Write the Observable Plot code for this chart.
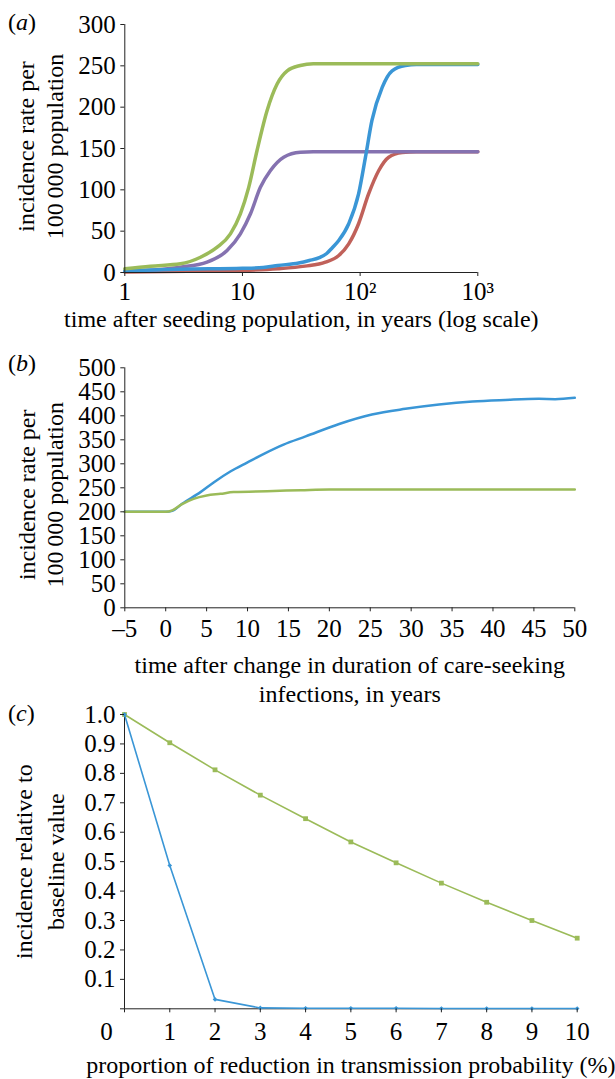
<!DOCTYPE html>
<html><head><meta charset="utf-8">
<script src="https://cdn.jsdelivr.net/npm/d3@7"></script>
<script src="https://cdn.jsdelivr.net/npm/@observablehq/plot@0.6"></script>
<style>
body{margin:0;background:#fff;overflow:hidden}
#wrap{position:relative;width:615px;height:1079px;font-family:"Liberation Serif","Times New Roman",serif;background:#fff}
.panel{position:absolute;left:0}
.plabel{position:absolute;left:8px;font-size:24px;line-height:28px;color:#000;font-family:"Liberation Serif","Times New Roman",serif}
</style></head><body><div id="wrap"></div>
<script>
// ---------- Panel (a) ----------
const aXTicks = [1, 10, 100, 1000];
const aXTickLabels = ["1", "10", "10²", "10³"];
const aYTicks = [0, 50, 100, 150, 200, 250, 300];
const aGreenT = [1, 1.65, 2.97, 4.4, 6.1, 7.9, 9.6, 11.3, 13.3, 16.2, 19.7, 24, 31, 40, 100, 1000];
const aGreenV = [4.5, 7.7, 10.5, 18.5, 30.6, 46.8, 71, 103, 147.6, 196, 228, 244, 250.4, 252.5, 252.5, 252.5];
const aPurpleT = [1, 2, 2.97, 5, 7.4, 9.6, 11.7, 14.2, 17.3, 22.4, 31, 40, 1000];
const aPurpleV = [1.6, 3.5, 6.4, 12.5, 26.6, 46.8, 71, 103, 123.4, 139.5, 145.5, 146, 146];
const aBlueT = [1, 3, 10, 15, 20, 30, 37, 45, 52, 58, 65.8, 80, 97, 111, 126, 154, 187, 243, 300, 1000];
const aBlueV = [2, 4, 5, 6, 8.5, 11.5, 14.5, 18, 23, 30, 38.7, 59, 95, 139.5, 184, 224, 244, 250.5, 251.5, 251.5];
const aRedT = [1, 3.4, 10, 20, 34, 50.7, 65.8, 80, 97, 118, 144, 175, 228, 300, 1000];
const aRedV = [0.5, 1.5, 2.5, 4.5, 7.7, 12.5, 20.6, 34.7, 59, 95, 123.4, 139.5, 145, 146, 146];
const aXTitle = "time after seeding population, in years (log scale)";
const aYTitle = "incidence rate per\n100\u2009000 population";

// ---------- Panel (b) ----------
const bXTicks = [-5, 0, 5, 10, 15, 20, 25, 30, 35, 40, 45, 50];
const bYTicks = [0, 50, 100, 150, 200, 250, 300, 350, 400, 450, 500];
const bBlueT = [-5, 0, 0.8, 2, 4.25, 5.9, 7.9, 10, 12, 14.4, 17.1, 21.2, 25.2, 29.3, 33.4, 37.5, 41.5, 45.6, 47.6, 50];
const bBlueV = [200, 200, 202, 216.7, 241, 261.7, 284, 303, 320.8, 340, 357, 383, 402.7, 414.5, 423.5, 429.8, 433, 435.3, 434.7, 437.5];
const bGreenT = [-5, 0, 0.8, 2, 3.4, 5, 6.7, 8.3, 12.4, 16.5, 20, 50];
const bGreenV = [200, 200, 203, 216, 227, 234, 237.5, 241, 243, 245, 246.5, 246.5];
const bXTitle = "time after change in duration of care-seeking\ninfections, in years";
const bYTitle = "incidence rate per\n100\u2009000 population";

// ---------- Panel (c) ----------
const cX = [0, 1, 2, 3, 4, 5, 6, 7, 8, 9, 10];
const cYTicks = [0, 0.1, 0.2, 0.3, 0.4, 0.5, 0.6, 0.7, 0.8, 0.9, 1.0];
const cGreen = [1.0, 0.904, 0.812, 0.726, 0.646, 0.567, 0.496, 0.427, 0.362, 0.300, 0.240];
const cBlue = [1.0, 0.487, 0.032, 0.003, 0.002, 0.002, 0.002, 0.001, 0.001, 0.001, 0.001];
const cXTitle = "proportion of reduction in transmission probability (%)";
const cYTitle = "incidence relative to\nbaseline value";

const panelLabels = ["a", "b", "c"];

const GREEN = "#9bbb59", PURPLE = "#8572b0", BLUE = "#3a96d6", RED = "#c0615a", AXIS = "#222";
const FONT = "Liberation Serif, Times New Roman, serif";
const baseStyle = {fontFamily: FONT, fontSize: "25px", color: "#000", background: "transparent", overflow: "visible"};

const zip = (xs, ys, s) => xs.map((x, i) => ({x, y: ys[i], s}));
const wrap = document.getElementById("wrap");

function place(svg, top) {
  svg.classList.add("panel");
  svg.style.top = top + "px";
  svg.style.position = "absolute";
  wrap.appendChild(svg);
}
function addLabel(letter, top) {
  const d = document.createElement("div");
  d.className = "plabel";
  d.style.top = top + "px";
  d.innerHTML = "(<i>" + letter + "</i>)";
  wrap.appendChild(d);
}
function yTitle(t, dx, dy, lh) {
  return Plot.text([t], {frameAnchor: "left", rotate: -90, dx, dy, textAnchor: "middle", lineAnchor: "middle",
    lineHeight: lh, text: d => d, fontSize: 24});
}

// Panel a
const aPlot = Plot.plot({
  width: 615, height: 340,
  marginTop: 24, marginBottom: 68, marginLeft: 124.3, marginRight: 137.7,
  style: baseStyle,
  x: {type: "log", domain: [1, 1000]},
  y: {domain: [0, 300]},
  marks: [
    Plot.line(zip(aRedT, aRedV, "red"), {x: "x", y: "y", stroke: RED, strokeWidth: 3.5, curve: "monotone-x"}),
    Plot.line(zip(aPurpleT, aPurpleV, "purple"), {x: "x", y: "y", stroke: PURPLE, strokeWidth: 3.5, curve: "monotone-x"}),
    Plot.line(zip(aBlueT, aBlueV, "blue"), {x: "x", y: "y", stroke: BLUE, strokeWidth: 3.5, curve: "monotone-x"}),
    Plot.line(zip(aGreenT, aGreenV, "green"), {x: "x", y: "y", stroke: GREEN, strokeWidth: 3.5, curve: "monotone-x"}),
    Plot.ruleX([aXTicks[0]], {stroke: AXIS}),
    Plot.ruleY([aYTicks[0]], {stroke: AXIS}),
    Plot.axisY({ticks: aYTicks, tickSize: 4, tickPadding: 5, label: null, stroke: AXIS}),
    Plot.axisX({ticks: aXTicks, tickSize: 4, tickPadding: 6, label: null, stroke: AXIS,
      tickFormat: d => aXTickLabels[aXTicks.indexOf(d)]}),
    Plot.text([aXTitle], {frameAnchor: "bottom", dy: 47, textAnchor: "middle", lineAnchor: "middle", text: d => d, fontSize: 24}),
    yTitle(aYTitle, -85.6, -2, 1.22)
  ]
});
place(aPlot, 0);
addLabel(panelLabels[0], 8);

// Panel b
const bPlot = Plot.plot({
  width: 615, height: 365,
  marginTop: 27.3, marginBottom: 97.7, marginLeft: 124.3, marginRight: 40.7,
  style: baseStyle,
  x: {domain: [-5, 50]},
  y: {domain: [0, 500]},
  marks: [
    Plot.line(zip(bBlueT, bBlueV, "blue"), {x: "x", y: "y", stroke: BLUE, strokeWidth: 2.5, curve: "monotone-x"}),
    Plot.line(zip(bGreenT, bGreenV, "green"), {x: "x", y: "y", stroke: GREEN, strokeWidth: 2.5, curve: "monotone-x"}),
    Plot.ruleX([bXTicks[0]], {stroke: AXIS}),
    Plot.ruleY([bYTicks[0]], {stroke: AXIS}),
    Plot.axisY({ticks: bYTicks, tickSize: 4, tickPadding: 5, label: null, stroke: AXIS}),
    Plot.axisX({ticks: bXTicks, tickSize: 4, tickPadding: 7, label: null, stroke: AXIS,
      tickFormat: d => d < 0 ? "\u2013" + Math.abs(d) : String(d)}),
    Plot.text([bXTitle], {frameAnchor: "bottom", dy: 45.7, textAnchor: "middle", lineAnchor: "top", lineHeight: 1.17, text: d => d, fontSize: 24}),
    yTitle(bYTitle, -85.1, 7, 1.18)
  ]
});
place(bPlot, 340);
addLabel(panelLabels[1], 349);

// Panel c
const cPlot = Plot.plot({
  width: 615, height: 374,
  marginTop: 9, marginBottom: 70.7, marginLeft: 124, marginRight: 38.3,
  style: baseStyle,
  x: {domain: [0, 10]},
  y: {domain: [0, 1]},
  marks: [
    Plot.ruleX([cX[0]], {stroke: AXIS}),
    Plot.ruleY([cYTicks[0]], {stroke: AXIS}),
    Plot.line(zip(cX, cGreen, "green"), {x: "x", y: "y", stroke: GREEN, strokeWidth: 1.6}),
    Plot.dot(zip(cX, cGreen, "green"), {x: "x", y: "y", symbol: "square", r: 2.7, fill: GREEN, stroke: null}),
    Plot.line(zip(cX, cBlue, "blue"), {x: "x", y: "y", stroke: BLUE, strokeWidth: 1.6}),
    Plot.dot(zip(cX, cBlue, "blue"), {x: "x", y: "y", symbol: "diamond2", r: 2.1, fill: BLUE, stroke: null}),
    Plot.axisY({ticks: cYTicks, tickSize: 4, tickPadding: 5, label: null, stroke: AXIS,
      tickFormat: d => d === 0 ? "" : d.toFixed(1)}),
    Plot.axisX({ticks: cX, tickSize: 4, tickPadding: 9.5, label: null, stroke: AXIS,
      tickFormat: d => d === 0 ? "" : String(d)}),
    Plot.text([cX[0]], {x: d => d, frameAnchor: "bottom", dy: 13.5, dx: -18, textAnchor: "middle", lineAnchor: "top", text: d => String(d), fontSize: 25}),
    Plot.text([cXTitle], {frameAnchor: "bottom", dy: 57, textAnchor: "middle", lineAnchor: "middle", text: d => d, fontSize: 24}),
    yTitle(cYTitle, -86.5, 0, 1.3)
  ]
});
place(cPlot, 705);
addLabel(panelLabels[2], 699);
</script></body></html>
